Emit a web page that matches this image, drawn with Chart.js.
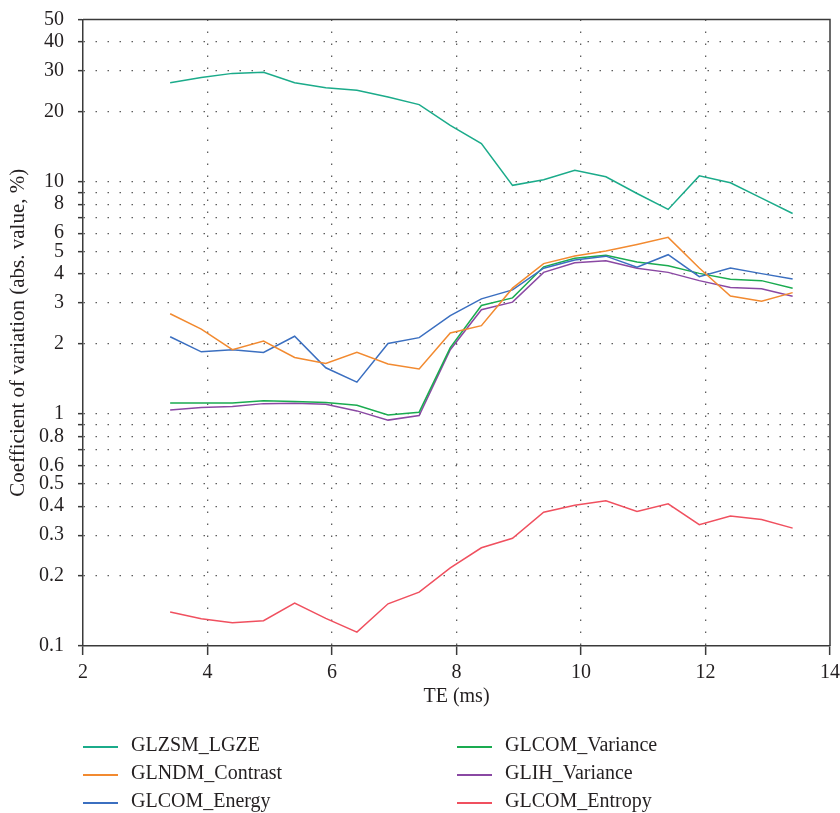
<!DOCTYPE html>
<html>
<head>
<meta charset="utf-8">
<style>
  html, body { margin: 0; padding: 0; background: #ffffff; }
  #wrap { width: 840px; height: 813px; position: relative; }
</style>
<script src="https://cdn.jsdelivr.net/npm/chart.js@4.4.1/dist/chart.umd.min.js"></script>
</head>
<body>
<div id="wrap"><canvas id="c" width="840" height="813"></canvas></div>
<script>
// ---- Data ----
const teValues = [3.4, 3.9, 4.4, 4.9, 5.4, 5.9, 6.4, 6.9, 7.4, 7.9, 8.4, 8.9, 9.4, 9.9, 10.4, 10.9, 11.4, 11.9, 12.4, 12.9, 13.4];

const glzsmLGZE = [26.7, 28.1, 29.3, 29.6, 26.7, 25.4, 24.8, 23.2, 21.5, 17.5, 14.6, 9.65, 10.2, 11.2, 10.5, 8.9, 7.6, 10.6, 9.9, 8.5, 7.3];
const glndmContrast = [2.70, 2.32, 1.89, 2.06, 1.75, 1.65, 1.84, 1.64, 1.56, 2.23, 2.40, 3.48, 4.44, 4.79, 5.03, 5.37, 5.76, 4.25, 3.22, 3.06, 3.33];
const glcomEnergy = [2.15, 1.85, 1.89, 1.84, 2.16, 1.58, 1.37, 2.01, 2.13, 2.65, 3.13, 3.42, 4.24, 4.60, 4.78, 4.28, 4.85, 3.90, 4.25, 4.02, 3.81];
const glcomVariance = [1.115, 1.115, 1.115, 1.14, 1.13, 1.12, 1.09, 0.99, 1.017, 1.93, 2.93, 3.16, 4.30, 4.68, 4.82, 4.51, 4.35, 4.03, 3.80, 3.75, 3.48];
const glihVariance = [1.04, 1.065, 1.075, 1.107, 1.11, 1.10, 1.03, 0.94, 0.984, 1.89, 2.81, 3.03, 4.07, 4.48, 4.57, 4.24, 4.07, 3.75, 3.50, 3.46, 3.21];
const glcomEntropy = [0.140, 0.131, 0.126, 0.1285, 0.153, 0.1315, 0.1147, 0.152, 0.1706, 0.217, 0.265, 0.291, 0.377, 0.404, 0.422, 0.380, 0.410, 0.333, 0.363, 0.351, 0.322];

const seriesLabels = ['GLZSM_LGZE', 'GLNDM_Contrast', 'GLCOM_Energy', 'GLCOM_Variance', 'GLIH_Variance', 'GLCOM_Entropy'];
const seriesValues = [glzsmLGZE, glndmContrast, glcomEnergy, glcomVariance, glihVariance, glcomEntropy];
const seriesColors = ['#1bab8a', '#f28a30', '#3b6fc0', '#1aab50', '#8a48a3', '#f0505f'];

const xTicks = [2, 4, 6, 8, 10, 12, 14];
const yGridValues = [0.1, 0.2, 0.3, 0.4, 0.5, 0.6, 0.7, 0.8, 0.9, 1, 2, 3, 4, 5, 6, 7, 8, 9, 10, 20, 30, 40, 50];
const yTickLabels = [0.1, 0.2, 0.3, 0.4, 0.5, 0.6, 0.8, 1, 2, 3, 4, 5, 6, 8, 10, 20, 30, 40, 50];

const FONT = "'Liberation Serif', 'Times New Roman', serif";
const TEXT = '#231f20';

const datasets = seriesLabels.map((lab, i) => ({
  label: lab,
  data: teValues.map((x, j) => ({ x: x, y: seriesValues[i][j] })),
  borderColor: seriesColors[i],
  backgroundColor: seriesColors[i],
  borderWidth: 1.5,
  pointRadius: 0,
  pointHoverRadius: 0,
  tension: 0,
  fill: false
}));

const framePlugin = {
  id: 'frame',
  afterDraw(chart) {
    const { ctx, chartArea: a } = chart;
    ctx.save();
    ctx.strokeStyle = '#3a3a3a';
    ctx.lineWidth = 1.5;
    ctx.beginPath();
    ctx.moveTo(a.left, a.top);
    ctx.lineTo(a.right, a.top);
    ctx.lineTo(a.right, a.bottom);
    ctx.stroke();
    ctx.restore();
  }
};

const legendPlugin = {
  id: 'twoColLegend',
  afterDraw(chart) {
    const ctx = chart.ctx;
    const colX = [83, 457];
    const rowY0 = 747, rowGap = 28, lineLen = 35, textGap = 13;
    ctx.save();
    ctx.font = '20px ' + FONT;
    ctx.textBaseline = 'middle';
    ctx.textAlign = 'left';
    chart.data.datasets.forEach((ds, i) => {
      const col = Math.floor(i / 3), row = i % 3;
      const x = colX[col], y = rowY0 + row * rowGap;
      ctx.strokeStyle = ds.borderColor;
      ctx.lineWidth = 2;
      ctx.beginPath();
      ctx.moveTo(x, y);
      ctx.lineTo(x + lineLen, y);
      ctx.stroke();
      ctx.fillStyle = TEXT;
      ctx.fillText(ds.label, x + lineLen + textGap, y - 1);
    });
    ctx.restore();
  }
};

new Chart(document.getElementById('c'), {
  type: 'line',
  data: { datasets: datasets },
  plugins: [framePlugin, legendPlugin],
  options: {
    responsive: false,
    animation: false,
    events: [],
    layout: { padding: { left: 0, right: 10, top: 19.5, bottom: 104 } },
    plugins: {
      legend: { display: false },
      tooltip: { enabled: false }
    },
    scales: {
      x: {
        type: 'linear',
        min: 2,
        max: 14,
        afterBuildTicks(scale) { scale.ticks = xTicks.map(v => ({ value: v })); },
        afterFit(scale) { scale.height = 63; scale.paddingLeft = 0; scale.paddingRight = 0; },
        ticks: {
          font: { family: FONT, size: 20 },
          color: TEXT,
          padding: 6,
          maxRotation: 0,
          autoSkip: false
        },
        grid: {
          color: (c) => (c.tick && (c.tick.value === 2 || c.tick.value === 14)) ? 'rgba(0,0,0,0)' : '#5e5e5e',
          lineWidth: 1.3,
          drawTicks: true,
          tickLength: 9,
          tickColor: '#3a3a3a',
          tickWidth: 1.5,
          tickBorderDash: []
        },
        border: { display: true, color: '#3a3a3a', width: 1.5, dash: [1.5, 10.5], dashOffset: 0 },
        title: {
          display: true,
          text: 'TE (ms)',
          font: { family: FONT, size: 20 },
          color: TEXT,
          padding: { top: 0, bottom: 0 }
        }
      },
      y: {
        type: 'logarithmic',
        min: 0.1,
        max: 50,
        afterBuildTicks(scale) { scale.ticks = yGridValues.map(v => ({ value: v })); },
        afterFit(scale) { scale.width = 83; scale.paddingTop = 0; scale.paddingBottom = 0; },
        ticks: {
          font: { family: FONT, size: 20 },
          color: TEXT,
          padding: 14,
          autoSkip: false,
          callback: (v) => {
            const hit = yTickLabels.find(t => Math.abs(t - v) < 1e-9 * Math.max(1, v));
            return hit !== undefined ? String(hit) : '';
          }
        },
        grid: {
          color: (c) => (c.tick && (c.tick.value === 0.1 || c.tick.value === 50)) ? 'rgba(0,0,0,0)' : '#5e5e5e',
          lineWidth: 1.3,
          drawTicks: true,
          tickLength: 5,
          tickColor: '#3a3a3a',
          tickWidth: 1.5,
          tickBorderDash: []
        },
        border: { display: true, color: '#3a3a3a', width: 1.5, dash: [1.5, 10.5], dashOffset: 0 },
        title: {
          display: true,
          text: 'Coefficient of variation (abs. value, %)',
          font: { family: FONT, size: 21 },
          color: TEXT,
          padding: { top: 6, bottom: 0 }
        }
      }
    }
  }
});
</script>
</body>
</html>
